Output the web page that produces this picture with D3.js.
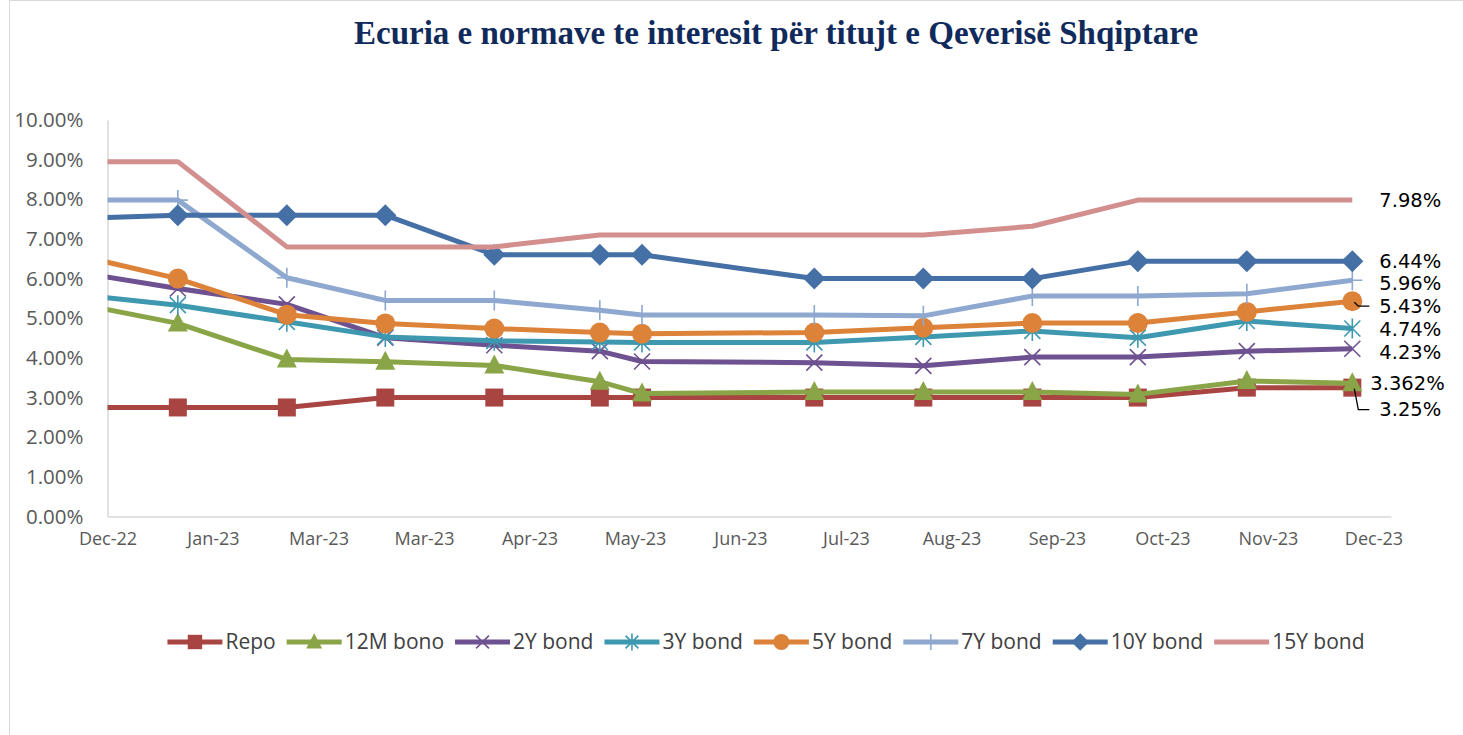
<!DOCTYPE html>
<html>
<head>
<meta charset="utf-8">
<script src="https://cdn.jsdelivr.net/npm/d3@7"></script>
<style>
  body { margin: 0; background: #fff; }
  svg { display: block; }
</style>
</head>
<body>
<svg width="1463" height="735"></svg>
<script>
// auction dates (first one sits before the axis start and gets clipped, like in Excel)
const dates = ['2022-12-20', '2023-01-20', '2023-02-20', '2023-03-20', '2023-04-20', '2023-05-20',
  '2023-06-01', '2023-07-20', '2023-08-20', '2023-09-20', '2023-10-20', '2023-11-20', '2023-12-20'];

const repo     = [2.75, 2.75, 2.75, 3.00, 3.00, 3.00, 3.00, 3.00, 3.00, 3.00, 3.00, 3.25, 3.25];
const bono12m  = [5.41, 4.87, 3.96, 3.90, 3.81, 3.40, 3.10, 3.14, 3.14, 3.14, 3.08, 3.42, 3.362];
const bond2y   = [6.20, 5.75, 5.35, 4.51, 4.32, 4.17, 3.91, 3.88, 3.80, 4.02, 4.02, 4.17, 4.23];
const bond3y   = [5.62, 5.33, 4.91, 4.53, 4.43, 4.40, 4.39, 4.39, 4.53, 4.68, 4.51, 4.93, 4.74];
const bond5y   = [6.64, 6.00, 5.09, 4.87, 4.74, 4.64, 4.61, 4.64, 4.76, 4.88, 4.88, 5.16, 5.43];
const bond7y   = [7.98, 7.98, 6.02, 5.45, 5.45, 5.20, 5.08, 5.08, 5.06, 5.56, 5.56, 5.62, 5.96];
const bond10y  = [7.51, 7.60, 7.60, 7.60, 6.60, 6.60, 6.60, 6.00, 6.00, 6.00, 6.44, 6.44, 6.44];
const bond15y  = [8.95, 8.95, 6.80, 6.80, 6.80, 7.10, 7.10, 7.10, 7.10, 7.32, 7.98, 7.98, 7.98];

const names = ['Repo', '12M bono', '2Y bond', '3Y bond', '5Y bond', '7Y bond', '10Y bond', '15Y bond'];
const lastLabels = ['3.25%', '3.362%', '4.23%', '4.74%', '5.43%', '5.96%', '6.44%', '7.98%'];

const yTicks = [0, 1, 2, 3, 4, 5, 6, 7, 8, 9, 10];

const colors = ['#a84542', '#89a547', '#6d5190', '#3d98b0', '#dc8239', '#8ea8d0', '#4570a6', '#d38f8e'];
const markers = ['square', 'triangle', 'x', 'star', 'circle', 'plus', 'diamond', null];

const parse = d3.timeParse('%Y-%m-%d');
const seriesVals = [repo, bono12m, bond2y, bond3y, bond5y, bond7y, bond10y, bond15y];
const series = names.map((n, i) => ({
  name: n,
  color: colors[i],
  marker: markers[i],
  label: lastLabels[i],
  values: seriesVals[i].map((v, j) => ({ date: parse(dates[j]), value: v }))
}));

const svg = d3.select('svg');
const font = "'Open Sans', sans-serif";

// outer chart border
svg.append('rect')
  .attr('x', 9.5).attr('y', 0.5)
  .attr('width', 1470).attr('height', 760)
  .attr('fill', 'none')
  .attr('stroke', '#d9d9d9');

// title
svg.append('text')
  .attr('x', 776).attr('y', 44)
  .attr('text-anchor', 'middle')
  .style('font-family', "'Liberation Serif', serif")
  .style('font-weight', 'bold')
  .style('font-size', '33px')
  .attr('fill', '#112a5c')
  .text('Ecuria e normave te interesit për titujt e Qeverisë Shqiptare');

const x = d3.scaleTime()
  .domain([parse('2022-12-31'), parse('2023-12-31')])
  .range([107.5, 1391]);

const y = d3.scaleLinear()
  .domain([0, 10])
  .range([516.5, 120]);

// axes
const xTicks = d3.range(0, 361, 30).map(d => d3.timeDay.offset(parse('2022-12-31'), d));

const yAxis = svg.append('g')
  .attr('transform', 'translate(107.5,0)')
  .call(d3.axisLeft(y).tickValues(yTicks).tickSize(0).tickPadding(24)
    .tickFormat(d => d3.format('.2f')(d) + '%'));
yAxis.select('.domain').attr('stroke', '#d9d9d9').attr('stroke-width', 1.5);
yAxis.selectAll('text')
  .style('font-family', font).style('font-size', '20.5px').attr('fill', '#595959');

const xAxis = svg.append('g')
  .attr('transform', 'translate(0,516.5)')
  .call(d3.axisBottom(x).tickValues(xTicks).tickSize(0).tickPadding(16)
    .tickFormat(d3.timeFormat('%b-%y')));
xAxis.select('.domain').attr('stroke', '#d9d9d9').attr('stroke-width', 1.5);
xAxis.selectAll('text')
  .style('font-family', font).style('font-size', '18px').attr('fill', '#595959');

svg.append('clipPath').attr('id', 'plotclip')
  .append('rect')
  .attr('x', 107.5).attr('y', 100)
  .attr('width', 1391 - 107.5).attr('height', 430);

const line = d3.line()
  .x(d => x(d.date))
  .y(d => y(d.value));

function drawMarker(g, type, color, s) {
  if (type === 'square') {
    g.append('rect').attr('x', -9 * s).attr('y', -9 * s)
      .attr('width', 18 * s).attr('height', 18 * s).attr('fill', color);
  } else if (type === 'triangle') {
    g.append('path').attr('d', `M0,${-11 * s}L${10 * s},${8 * s}L${-10 * s},${8 * s}Z`).attr('fill', color);
  } else if (type === 'circle') {
    g.append('circle').attr('r', 10 * s).attr('fill', color);
  } else if (type === 'diamond') {
    g.append('path').attr('d', `M0,${-11 * s}L${11 * s},0L0,${11 * s}L${-11 * s},0Z`).attr('fill', color);
  } else if (type === 'x' || type === 'star') {
    const r = 8 * s;
    let d = `M${-r},${-r}L${r},${r}M${-r},${r}L${r},${-r}`;
    if (type === 'star') d += `M0,${-r - 2}L0,${r + 2}`;
    g.append('path').attr('d', d).attr('stroke', color).attr('stroke-width', 1.6).attr('fill', 'none');
  } else if (type === 'plus') {
    const r = 10 * s;
    g.append('path').attr('d', `M0,${-r}L0,${r}M${-r},0L${r},0`)
      .attr('stroke', color).attr('stroke-width', 1.6).attr('fill', 'none');
  }
}

const plot = svg.append('g').attr('clip-path', 'url(#plotclip)');

series.forEach(s => {
  const g = plot.append('g');
  g.append('path')
    .datum(s.values)
    .attr('fill', 'none')
    .attr('stroke', s.color)
    .attr('stroke-width', 5)
    .attr('stroke-linejoin', 'round')
    .attr('d', line);
  if (s.marker) {
    s.values.forEach(v => {
      const m = g.append('g').attr('transform', `translate(${x(v.date)},${y(v.value)})`);
      drawMarker(m, s.marker, s.color, 1);
    });
  }
});

// end-of-line data labels
const labelShift = { 'Repo': 22, '12M bono': 0, '2Y bond': 3, '3Y bond': 1, '5Y bond': 5, '7Y bond': 3, '10Y bond': 0, '15Y bond': 0 };
const labelX = { '12M bono': 18 };
series.forEach(s => {
  const last = s.values[s.values.length - 1];
  const px = x(last.date), py = y(last.value);
  const ly = py + labelShift[s.name];
  svg.append('text')
    .attr('x', px + (labelX[s.name] || 27))
    .attr('y', ly)
    .attr('dy', '0.35em')
    .style('font-family', "'DejaVu Sans', sans-serif")
    .style('font-size', '19.5px')
    .attr('fill', '#000')
    .text(s.label);
  if (labelShift[s.name] > 4) {
    svg.append('path')
      .attr('d', `M${px + 2},${py + 1}L${px + 6},${ly}L${px + 17},${ly}`)
      .attr('fill', 'none').attr('stroke', '#000').attr('stroke-width', 1.3);
  }
});

// legend
const legend = svg.append('g').attr('transform', 'translate(0,642)');
let lx = 0;
const items = [];
series.forEach(s => {
  const g = legend.append('g');
  g.append('line').attr('x1', 0).attr('x2', 55).attr('stroke', s.color).attr('stroke-width', 5);
  if (s.marker) {
    const m = g.append('g').attr('transform', 'translate(27.5,0)');
    drawMarker(m, s.marker, s.color, 0.8);
  }
  const t = g.append('text')
    .attr('x', 58).attr('dy', '0.35em')
    .style('font-family', font).style('font-size', '21px')
    .attr('fill', '#404040')
    .text(s.name);
  const w = 58 + t.node().getComputedTextLength();
  items.push({ g, x: lx });
  lx += w + 11;
});
const total = lx - 11;
const start = 766 - total / 2;
items.forEach(it => it.g.attr('transform', `translate(${start + it.x},0)`));
</script>
</body>
</html>
